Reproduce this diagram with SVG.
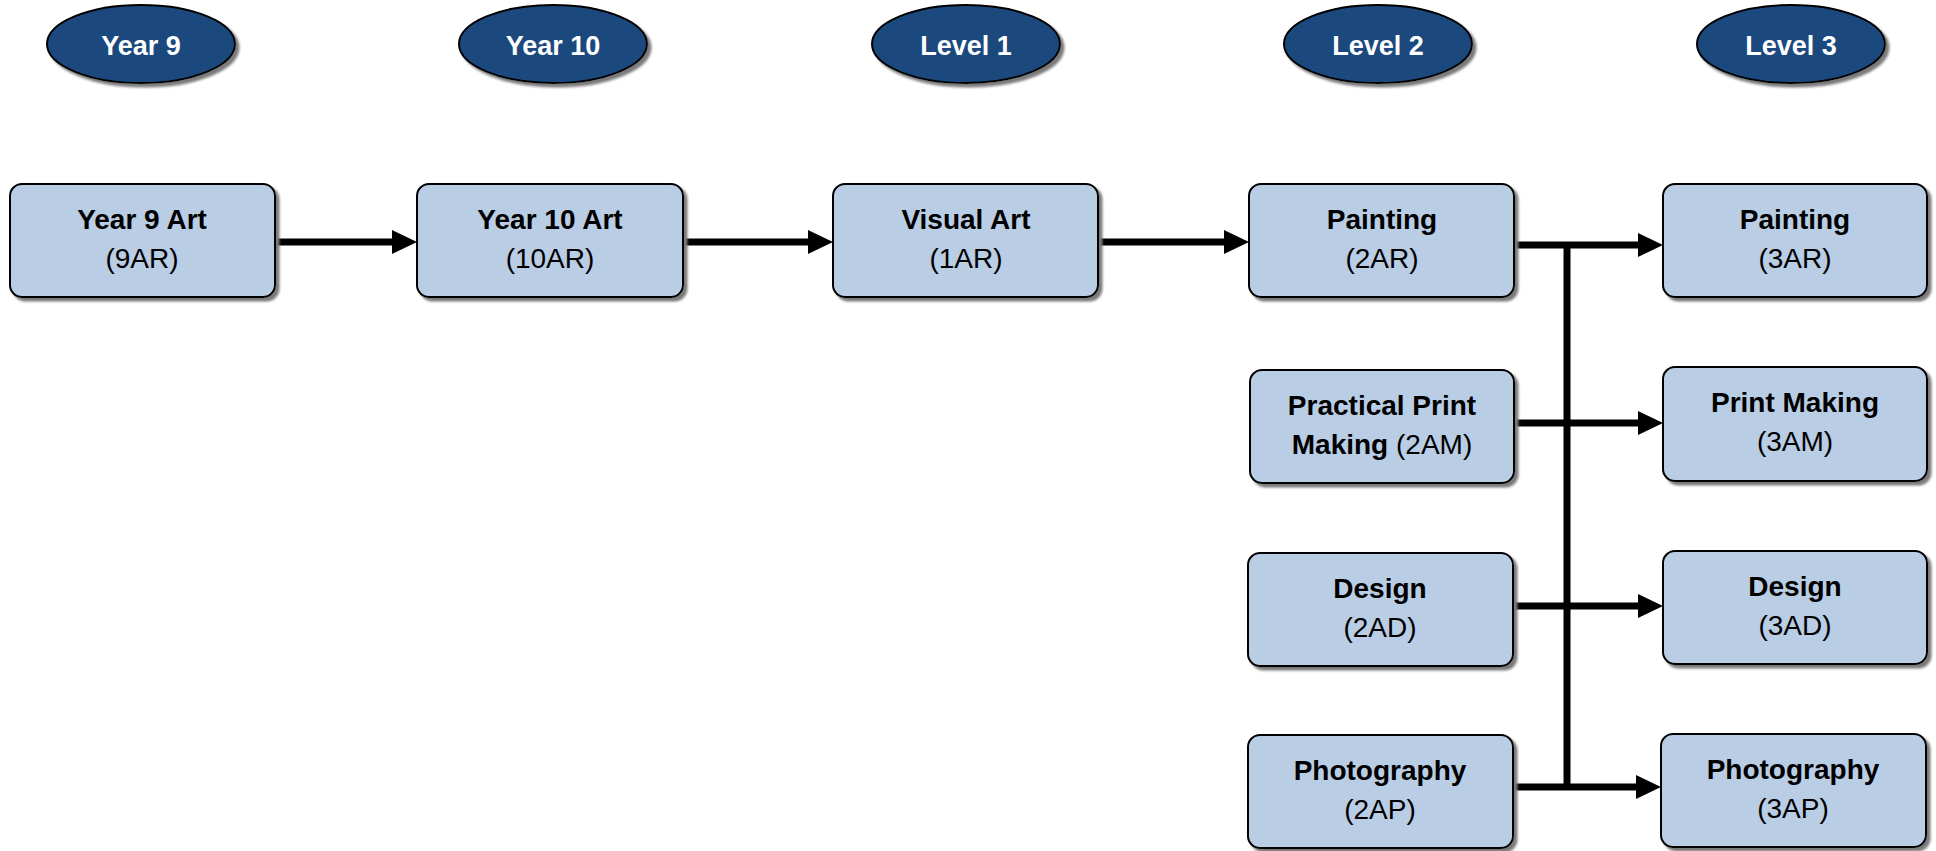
<svg xmlns="http://www.w3.org/2000/svg" width="1936" height="851" viewBox="0 0 1936 851">
<defs>
  <filter id="sh" x="-5%" y="-5%" width="115%" height="120%">
    <feDropShadow dx="3.5" dy="3.5" stdDeviation="1" flood-color="#7a7a7a" flood-opacity="1"/>
  </filter>
  <marker id="ah" markerUnits="userSpaceOnUse" markerWidth="26" markerHeight="26" viewBox="0 0 26 26" refX="6" refY="13" orient="auto">
    <path d="M0,1 L25,13 L0,25 Z" fill="#000"/>
  </marker>
</defs>
<style>
  .hdr ellipse { fill: #1F497D; stroke: #000; stroke-width: 2; filter: url(#sh); }
  .hdr text { fill: #fff; font-family: "Liberation Sans", Arial, sans-serif; font-weight: bold; font-size: 27px; text-anchor: middle; }
  .box rect { fill: #B9CDE5; stroke: #000; stroke-width: 2; filter: url(#sh); }
  .box text { fill: #000; font-family: "Liberation Sans", Arial, sans-serif; font-size: 28px; text-anchor: middle; }
  .b { font-weight: bold; }
  .conn path { fill: none; stroke: #000; stroke-width: 7; }
  .conn .arr { marker-end: url(#ah); }
</style>
<rect width="1936" height="851" fill="#fff"/>

<g id="connectors" class="conn">
  <path class="arr" d="M275,242 H398"/>
  <path class="arr" d="M683,242 H814"/>
  <path class="arr" d="M1098,242 H1230"/>
  <path class="arr" d="M1514,245 H1644"/>
  <path class="arr" d="M1514,423 H1644"/>
  <path class="arr" d="M1513,606 H1644"/>
  <path class="arr" d="M1513,787 H1642"/>
  <path d="M1567,242 V790"/>
</g>

<g id="hdr-year9" class="hdr"><ellipse cx="141" cy="44" rx="94" ry="39"/><text x="141" y="55">Year 9</text></g>
<g id="hdr-year10" class="hdr"><ellipse cx="553" cy="44" rx="94" ry="39"/><text x="553" y="55">Year 10</text></g>
<g id="hdr-level1" class="hdr"><ellipse cx="966" cy="44" rx="94" ry="39"/><text x="966" y="55">Level 1</text></g>
<g id="hdr-level2" class="hdr"><ellipse cx="1378" cy="44" rx="94" ry="39"/><text x="1378" y="55">Level 2</text></g>
<g id="hdr-level3" class="hdr"><ellipse cx="1791" cy="44" rx="94" ry="39"/><text x="1791" y="55">Level 3</text></g>

<g id="n-9AR" class="box"><rect x="10" y="184" width="265" height="113" rx="12"/>
  <text x="142" y="229" class="b">Year 9 Art</text><text x="142" y="268">(9AR)</text></g>
<g id="n-10AR" class="box"><rect x="417" y="184" width="266" height="113" rx="12"/>
  <text x="550" y="229" class="b">Year 10 Art</text><text x="550" y="268">(10AR)</text></g>
<g id="n-1AR" class="box"><rect x="833" y="184" width="265" height="113" rx="12"/>
  <text x="966" y="229" class="b">Visual Art</text><text x="966" y="268">(1AR)</text></g>
<g id="n-2AR" class="box"><rect x="1249" y="184" width="265" height="113" rx="12"/>
  <text x="1382" y="229" class="b">Painting</text><text x="1382" y="268">(2AR)</text></g>
<g id="n-3AR" class="box"><rect x="1663" y="184" width="264" height="113" rx="12"/>
  <text x="1795" y="229" class="b">Painting</text><text x="1795" y="268">(3AR)</text></g>

<g id="n-2AM" class="box"><rect x="1250" y="370" width="264" height="113" rx="12"/>
  <text x="1382" y="415" class="b">Practical Print</text><text x="1382" y="454"><tspan class="b">Making</tspan> (2AM)</text></g>
<g id="n-3AM" class="box"><rect x="1663" y="367" width="264" height="114" rx="12"/>
  <text x="1795" y="412" class="b">Print Making</text><text x="1795" y="451">(3AM)</text></g>

<g id="n-2AD" class="box"><rect x="1248" y="553" width="265" height="113" rx="12"/>
  <text x="1380" y="598" class="b">Design</text><text x="1380" y="637">(2AD)</text></g>
<g id="n-3AD" class="box"><rect x="1663" y="551" width="264" height="113" rx="12"/>
  <text x="1795" y="596" class="b">Design</text><text x="1795" y="635">(3AD)</text></g>

<g id="n-2AP" class="box"><rect x="1248" y="735" width="265" height="113" rx="12"/>
  <text x="1380" y="780" class="b">Photography</text><text x="1380" y="819">(2AP)</text></g>
<g id="n-3AP" class="box"><rect x="1661" y="734" width="265" height="113" rx="12"/>
  <text x="1793" y="779" class="b">Photography</text><text x="1793" y="818">(3AP)</text></g>
</svg>
